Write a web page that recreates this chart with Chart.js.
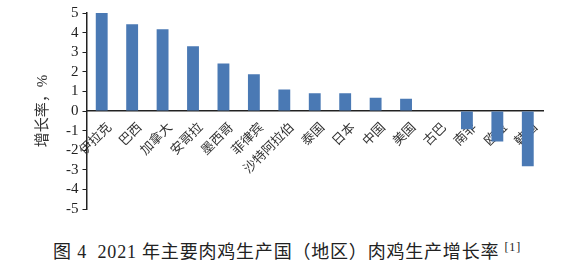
<!DOCTYPE html>
<html>
<head>
<meta charset="utf-8">
<script src="https://cdn.jsdelivr.net/npm/chart.js@4"></script>
<style>
  html, body { margin: 0; padding: 0; background: #fff; }
  #wrap { position: relative; width: 574px; height: 228px; }
  #caption {
    position: absolute; left: 0; top: 237px; width: 574px; text-align: center;
    font-family: "Liberation Serif", "Noto Sans CJK SC", serif; font-size: 18px; color: #222;
    letter-spacing: 0.8px; white-space: nowrap;
  }
  #caption sup { font-size: 12px; vertical-align: 7px; }
</style>
</head>
<body>
<div id="wrap"><canvas id="chart" width="574" height="228"></canvas></div>
<div id="caption">图 4&nbsp; 2021 年主要肉鸡生产国（地区）肉鸡生产增长率 <sup>[1]</sup></div>
<script>
// 国家/地区
const countries = ['伊拉克', '巴西', '加拿大', '安哥拉', '墨西哥', '菲律宾', '沙特阿拉伯',
  '泰国', '日本', '中国', '美国', '古巴', '南非', '欧盟', '韩国'];
// 增长率，%
const growth = [5.0, 4.43, 4.17, 3.3, 2.42, 1.88, 1.1, 0.9, 0.9, 0.68, 0.62, 0, -0.93, -1.55, -2.82];
const yTicks = [-5, -4, -3, -2, -1, 0, 1, 2, 3, 4, 5];

const serif = '"Liberation Serif", "Noto Sans CJK SC", serif';

new Chart(document.getElementById('chart'), {
  type: 'bar',
  data: {
    labels: countries,
    datasets: [{
      label: '增长率',
      data: growth,
      backgroundColor: '#4a79b4',
      barPercentage: 0.39,
      categoryPercentage: 1.0
    }]
  },
  options: {
    responsive: false,
    animation: false,
    layout: { padding: { left: 30, right: 31, top: 8, bottom: 19 } },
    plugins: {
      legend: { display: false },
      tooltip: { enabled: false }
    },
    scales: {
      x: {
        position: { y: 0 },
        z: 1,
        grid: { display: false },
        border: { color: '#222', width: 1.5 },
        ticks: {
          minRotation: 45,
          maxRotation: 45,
          autoSkip: false,
          padding: 1,
          labelOffset: 8,
          color: '#333',
          font: { family: serif, size: 13 }
        }
      },
      y: {
        min: -5,
        max: 5,
        afterBuildTicks: axis => { axis.ticks = yTicks.map(v => ({ value: v })); },
        grid: { drawOnChartArea: false, drawTicks: true, tickLength: 4, color: '#222' },
        border: { color: '#222', width: 1.5 },
        title: {
          display: true,
          text: '增长率，%',
          color: '#333',
          font: { family: serif, size: 15 },
          padding: { bottom: 10 }
        },
        ticks: {
          autoSkip: false,
          padding: 4,
          color: '#222',
          font: { family: serif, size: 15 }
        }
      }
    }
  }
});
</script>
</body>
</html>
